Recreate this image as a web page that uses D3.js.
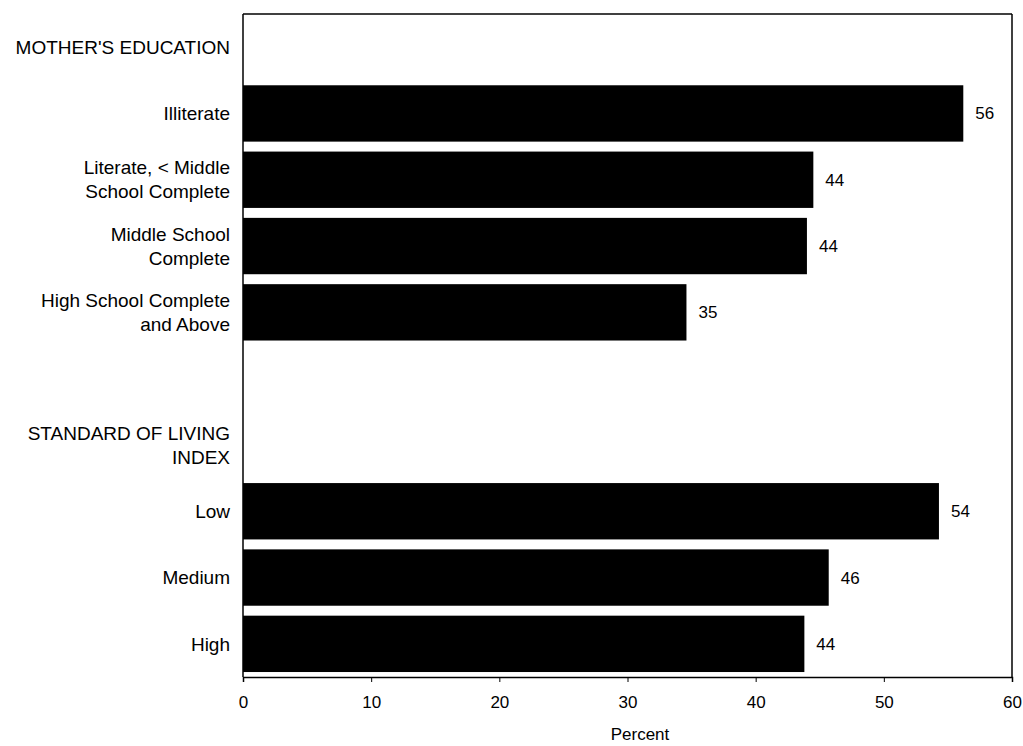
<!DOCTYPE html>
<html><head><meta charset="utf-8">
<script src="https://cdn.jsdelivr.net/npm/d3@7"></script>
<style>body{margin:0;background:#fff}svg{display:block}text{font-family:"Liberation Sans",Arial,sans-serif;fill:#000}</style>
</head><body><svg id="c" width="1023" height="746"></svg>
<script>
const slots = ["h1","Illiterate","Literate","Middle","HighSchool","gap","h2","Low","Medium","High"];
const slotLabels = [["MOTHER'S EDUCATION"],["Illiterate"],["Literate, < Middle","School Complete"],["Middle School","Complete"],["High School Complete","and Above"],[],["STANDARD OF LIVING","INDEX"],["Low"],["Medium"],["High"]];
const barCats = ["Illiterate","Literate","Middle","HighSchool","Low","Medium","High"];
const barValues = [56.2,44.5,44.0,34.6,54.3,45.7,43.8];
const barLabels = ["56","44","44","35","54","46","44"];
const xTicks = [0,10,20,30,40,50,60];

const svg = d3.select("#c");
const L=243, R=1012, T=14, B=677;
const x = d3.scaleLinear().domain([0,60]).range([L,R]);
const y = d3.scaleBand().domain(slots).range([T,B]).paddingInner(0.15).paddingOuter(0.075);

// frame
svg.append("line").attr("x1",L).attr("x2",R).attr("y1",T).attr("y2",T).attr("stroke","#000").attr("stroke-width",1.5);
svg.append("line").attr("x1",R).attr("x2",R).attr("y1",T).attr("y2",B).attr("stroke","#000").attr("stroke-width",1.5);
svg.append("line").attr("x1",L).attr("x2",L).attr("y1",T).attr("y2",B).attr("stroke","#000").attr("stroke-width",1.5);

// bars
svg.selectAll("rect.bar").data(barCats).enter().append("rect")
  .attr("x",x(0)).attr("y",d=>y(d)).attr("height",y.bandwidth())
  .attr("width",(d,i)=>x(barValues[i])-x(0)).attr("fill","#000");
svg.selectAll("text.val").data(barCats).enter().append("text")
  .attr("x",(d,i)=>x(barValues[i])+12).attr("y",d=>y(d)+y.bandwidth()/2)
  .attr("dy","0.35em").attr("font-size",17).text((d,i)=>barLabels[i]);

// category labels
slots.forEach((s,i)=>{
  const lines = slotLabels[i];
  const cy = y(s)+y.bandwidth()/2;
  const lh = 24;
  lines.forEach((t,j)=>{
    svg.append("text").attr("x",230).attr("y",cy+(j-(lines.length-1)/2)*lh)
      .attr("dy","0.35em").attr("text-anchor","end").attr("font-size",19).text(t);
  });
});

// x axis
const ax = svg.append("g").attr("transform",`translate(0,${B})`)
  .call(d3.axisBottom(x).tickValues(xTicks).tickSize(5).tickPadding(14).tickFormat(d3.format("d")));
ax.select(".domain").attr("stroke","#000").attr("stroke-width",1.5);
ax.selectAll("text").attr("font-size",17).attr("font-family","Liberation Sans, Arial, sans-serif");
svg.append("text").attr("x",640).attr("y",740).attr("text-anchor","middle").attr("font-size",17).text("Percent");
</script></body></html>
